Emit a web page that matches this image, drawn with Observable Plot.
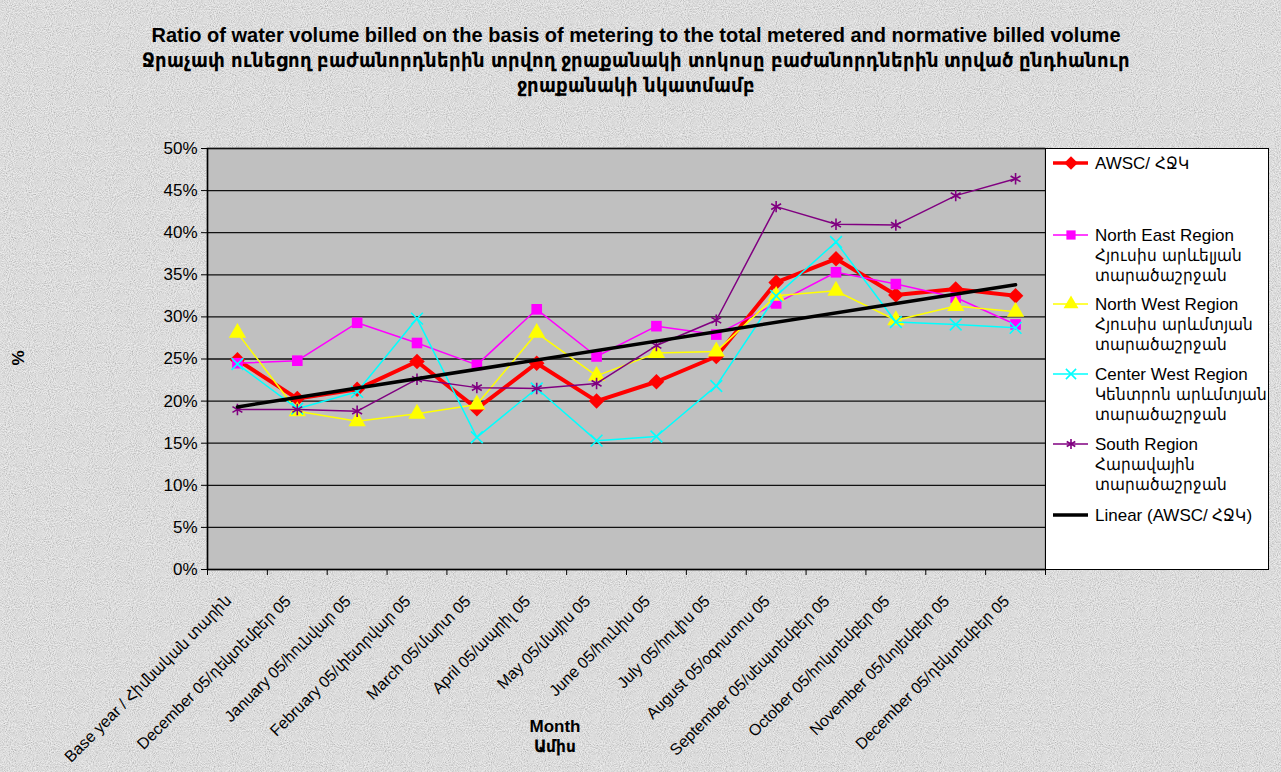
<!DOCTYPE html>
<html>
<head>
<meta charset="utf-8">
<script src="https://cdn.jsdelivr.net/npm/d3@7"></script>
<script src="https://cdn.jsdelivr.net/npm/@observablehq/plot@0.6"></script>
<style>
  @font-face { font-family: "ArmCond"; src: local("DejaVu Sans Condensed"), local("DejaVuSansCondensed"); font-weight: normal; unicode-range: U+0530-058F; }
  @font-face { font-family: "ArmCond"; src: local("DejaVu Sans Condensed Bold"), local("DejaVuSansCondensed-Bold"); font-weight: bold; unicode-range: U+0530-058F; }
  html, body { margin: 0; padding: 0; }
  body {
    width: 1281px; height: 772px; overflow: hidden; position: relative;
    background-color: #e6e6e6;
    background-image: url("data:image/svg+xml;utf8,<svg xmlns='http://www.w3.org/2000/svg' width='256' height='256'><filter id='n'><feTurbulence type='fractalNoise' baseFrequency='0.95' numOctaves='2' stitchTiles='stitch'/><feColorMatrix values='1.3 0 0 0 -0.05  1.3 0 0 0 -0.05  1.3 0 0 0 -0.05  0 0 0 0 0.4'/></filter><rect width='100%' height='100%' filter='url(%23n)'/></svg>");
    font-family: "Liberation Sans", "ArmCond", Arial, "DejaVu Sans", sans-serif;
  }
  #title {
    position: absolute; left: 0; top: 23px; width: 1272px; text-align: center;
    font-weight: bold; font-size: 20px; line-height: 25px; color: #000;
  }
  #chart { position: absolute; left: 0; top: 0; }
  #legend { position: absolute; left: 1045px; top: 148px; }
  #ylab { position: absolute; left: 11px; top: 348px; font-weight: bold; font-size: 17px; transform: rotate(-90deg); }
  #xlab { position: absolute; left: 505px; top: 717px; width: 100px; text-align: center; font-weight: bold; font-size: 17px; line-height: 20px; }
</style>
</head>
<body>
<div id="title">Ratio of water volume billed on the basis of metering to the total metered and normative billed volume<br>Ջրաչափ ունեցող բաժանորդներին տրվող ջրաքանակի տոկոսը բաժանորդներին տրված ընդհանուր<br>ջրաքանակի նկատմամբ</div>
<div id="chart"></div>
<div id="legend"></div>
<div id="ylab">%</div>
<div id="xlab">Month<br>Ամիս</div>
<script>
// ---- data ----
const months = [
  "Base year / Հիմնական տարին",
  "December 05/դեկտեմբեր 05",
  "January 05/հունվար 05",
  "February 05/փետրվար 05",
  "March 05/մարտ 05",
  "April 05/ապրիլ 05",
  "May 05/մայիս 05",
  "June 05/հունիս 05",
  "July 05/հուլիս 05",
  "August 05/օգոստոս 05",
  "September 05/սեպտեմբեր 05",
  "October 05/հոկտեմբեր 05",
  "November 05/նոյեմբեր 05",
  "December 05/դեկտեմբեր 05"
];
const awsc      = [24.9, 20.3, 21.4, 24.7, 19.1, 24.5, 20.0, 22.3, 25.3, 34.1, 36.9, 32.6, 33.3, 32.5];
const northEast = [24.5, 24.8, 29.3, 26.9, 24.3, 30.9, 25.3, 28.9, 27.9, 31.6, 35.3, 33.9, 32.3, 29.1];
const northWest = [28.1, 18.8, 17.6, 18.5, 19.6, 28.1, 23.0, 25.7, 25.9, 32.5, 33.1, 29.6, 31.3, 30.6];
const centerWest= [24.4, 19.1, 21.1, 29.8, 15.7, 21.5, 15.3, 15.8, 21.8, 32.5, 38.9, 29.4, 29.1, 28.7];
const south     = [19.0, 19.0, 18.8, 22.6, 21.6, 21.5, 22.1, 26.6, 29.6, 43.1, 41.0, 40.9, 44.4, 46.4];
const yTicks = [0, 5, 10, 15, 20, 25, 30, 35, 40, 45, 50];
const seriesNames = [
  ["AWSC/ ՀՋԿ"],
  ["North East Region", "Հյուսիս արևելյան", "տարածաշրջան"],
  ["North West Region", "Հյուսիս արևմտյան", "տարածաշրջան"],
  ["Center West Region", "Կենտրոն արևմտյան", "տարածաշրջան"],
  ["South Region", "Հարավային", "տարածաշրջան"]
];
const trendName = "Linear (AWSC/ ՀՋԿ)";

// ---- styles ----
const seriesValues = [awsc, northEast, northWest, centerWest, south];
const styles = [
  {color: "#ff0000", width: 4,   symbol: "diamond2", r: 7,   filled: true},
  {color: "#ff00ff", width: 1.5, symbol: "square",   r: 6,   filled: true},
  {color: "#ffff00", width: 1.5, symbol: "triangle", r: 6.4, filled: true},
  {color: "#00ffff", width: 1.5, symbol: "times",    r: 5.4, filled: false},
  {color: "#800080", width: 1.5, symbol: "asterisk", r: 5.4, filled: false}
];

const rowsOf = vals => vals.map((v, i) => ({i, v}));
const bounds = d3.range(0, months.length + 1).map(k => k - 0.5);
const font = `"Liberation Sans", "ArmCond", Arial, "DejaVu Sans", sans-serif`;

const marks = [
  Plot.frame({fill: "#c0c0c0", stroke: "#707070", strokeWidth: 1.5}),
  Plot.ruleY(yTicks.slice(1), {y: d => d, stroke: "#111", strokeWidth: 1.3}),
  Plot.axisY({ticks: yTicks, tickFormat: d => d + "%", tickSize: 6, tickPadding: 4, fontSize: 17, label: null}),
  Plot.axisX({ticks: bounds, tickFormat: () => "", tickSize: 6, label: null}),
  Plot.ruleX([-0.5], {stroke: "#000", strokeWidth: 1.5}),
  Plot.ruleY([0], {stroke: "#000", strokeWidth: 1.5})
];
seriesValues.forEach((vals, k) => {
  const s = styles[k];
  const rows = rowsOf(vals);
  marks.push(Plot.line(rows, {x: "i", y: "v", stroke: s.color, strokeWidth: s.width}));
  marks.push(Plot.dot(rows, s.filled
    ? {x: "i", y: "v", symbol: () => s.symbol, r: s.r, fill: s.color, stroke: "none"}
    : {x: "i", y: "v", symbol: () => s.symbol, r: s.r, fill: "none", stroke: s.color, strokeWidth: 1.6}));
});
marks.push(Plot.linearRegressionY(rowsOf(awsc), {x: "i", y: "v", stroke: "#000", strokeWidth: 3.5, ci: 0}));
marks.push(Plot.text(months.map((m, i) => ({i, m})), {
  x: "i", y: () => 0, text: "m", rotate: -45, textAnchor: "end",
  dx: -9, dy: 29, fontSize: 16, fill: "#000"
}));

const chart = Plot.plot({
  width: 1281, height: 772,
  marginLeft: 207, marginRight: 236, marginTop: 148, marginBottom: 203,
  style: {background: "transparent", fontFamily: font, fontSize: "17px", color: "#000", overflow: "visible"},
  x: {domain: [-0.5, months.length - 0.5], axis: null},
  y: {domain: [0, 50], axis: null},
  symbol: {type: "identity"},
  marks
});
document.getElementById("chart").appendChild(chart);

// ---- legend ----
const W = 224, H = 422;
const lg = d3.select("#legend").append("svg").attr("width", W).attr("height", H)
  .style("font-family", font).style("font-size", "17px");
lg.append("rect").attr("x", 0.5).attr("y", 0.5).attr("width", W - 1).attr("height", H - 1)
  .attr("fill", "#fff").attr("stroke", "#000");
const symMap = {diamond2: d3.symbolDiamond2, square: d3.symbolSquare, triangle: d3.symbolTriangle, times: d3.symbolTimes, asterisk: d3.symbolAsterisk};
const itemY = [15, 87, 156, 226, 296];
seriesNames.forEach((lines, k) => {
  const s = styles[k], y = itemY[k];
  lg.append("line").attr("x1", 8).attr("x2", 43).attr("y1", y).attr("y2", y)
    .attr("stroke", s.color).attr("stroke-width", Math.min(s.width, 3.5));
  lg.append("path").attr("transform", `translate(26,${y})`)
    .attr("d", d3.symbol(symMap[s.symbol], s.r * s.r * Math.PI * 0.75)())
    .attr("fill", s.filled ? s.color : "none").attr("stroke", s.filled ? "none" : s.color).attr("stroke-width", 1.6);
  lines.forEach((t, j) => {
    lg.append("text").attr("x", 50).attr("y", y + 20 * j).attr("dy", "0.35em").text(t);
  });
});
const ty = 367;
lg.append("line").attr("x1", 8).attr("x2", 43).attr("y1", ty).attr("y2", ty).attr("stroke", "#000").attr("stroke-width", 3.5);
lg.append("text").attr("x", 50).attr("y", ty).attr("dy", "0.35em").text(trendName);
</script>
</body>
</html>
